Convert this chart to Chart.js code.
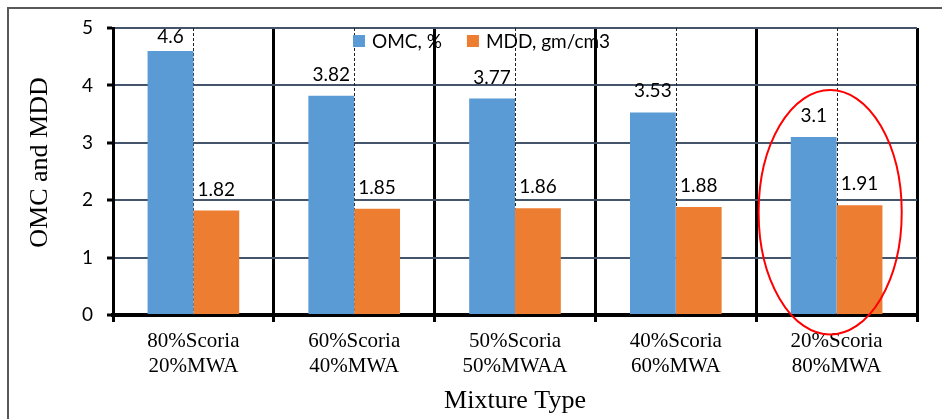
<!DOCTYPE html>
<html>
<head>
<meta charset="utf-8">
<script src="https://cdn.jsdelivr.net/npm/chart.js@4/dist/chart.umd.min.js"></script>
<style>
  html, body { margin: 0; padding: 0; background: #fff; }
  #wrap { position: relative; width: 942px; height: 419px; overflow: hidden; }
  #frame { position: absolute; left: 7px; top: 7px; width: 960px; height: 440px;
           border-left: 2px solid #595959; border-top: 2px solid #595959; box-sizing: border-box; }
  canvas { position: absolute; left: 0; top: 0; }
</style>
</head>
<body>
<div id="wrap">
  <div id="frame"></div>
  <canvas id="c" width="942" height="419"></canvas>
</div>
<script>
// ---- data ----
const categories = [
  ["80%Scoria", "20%MWA"],
  ["60%Scoria", "40%MWA"],
  ["50%Scoria", "50%MWAA"],
  ["40%Scoria", "60%MWA"],
  ["20%Scoria", "80%MWA"]
];
const omcValues = [4.6, 3.82, 3.77, 3.53, 3.1];
const mddValues = [1.82, 1.85, 1.86, 1.88, 1.91];
const seriesNames = ["OMC, %", "MDD, gm/cm3"];
const yTicks = [0, 1, 2, 3, 4, 5];
const xTitle = "Mixture Type";
const yTitle = "OMC and MDD";
// highlighted group (red ellipse), in data units
const highlightIndex = 4;
const highlightCenterOffset = -0.04;
const highlightCenterValue = 1.79;
const highlightHalfWidth = 0.445;   // in categories
const highlightHalfHeight = 2.13;   // in value units

const BLUE = '#5b9bd5', ORANGE = '#ed7d31';
const labelFont = '19px Lato, "Open Sans", sans-serif';
const serifFamily = '"Liberation Serif", "Times New Roman", serif';

const centerLines = {
  id: 'centerLines',
  beforeDatasetsDraw(chart) {
    const {ctx, chartArea, scales} = chart;
    ctx.save();
    ctx.strokeStyle = '#222';
    ctx.lineWidth = 1;
    ctx.setLineDash([3, 2]);
    categories.forEach((c, i) => {
      const x = Math.round(scales.x.getPixelForValue(i)) + 0.5;
      ctx.beginPath();
      ctx.moveTo(x, chartArea.top);
      ctx.lineTo(x, chartArea.bottom);
      ctx.stroke();
    });
    ctx.restore();
  }
};

const valueLabels = {
  id: 'valueLabels',
  afterDatasetsDraw(chart) {
    const {ctx, chartArea} = chart;
    ctx.save();
    ctx.font = labelFont;
    ctx.fillStyle = '#000';
    ctx.textAlign = 'center';
    ctx.textBaseline = 'alphabetic';
    chart.data.datasets.forEach((ds, di) => {
      const meta = chart.getDatasetMeta(di);
      meta.data.forEach((bar, i) => {
        let y = bar.y - 15;
        y = Math.max(y, chartArea.top + 15);
        ctx.fillText(String(ds.data[i]), bar.x, y);
      });
    });
    ctx.restore();
  }
};

const customLegend = {
  id: 'customLegend',
  afterDraw(chart) {
    const {ctx, chartArea} = chart;
    ctx.save();
    ctx.font = labelFont;
    ctx.textBaseline = 'middle';
    ctx.textAlign = 'left';
    let x = chartArea.left + 0.2985 * (chartArea.right - chartArea.left);
    const yc = chartArea.top + 13;
    chart.data.datasets.forEach((ds) => {
      ctx.fillStyle = ds.backgroundColor;
      ctx.fillRect(x, yc - 6, 12, 12);
      ctx.fillStyle = '#000';
      ctx.fillText(ds.label, x + 19, yc + 1);
      x += 19 + ctx.measureText(ds.label).width + 25;
    });
    ctx.restore();
  }
};

const yAxisTitle = {
  id: 'yAxisTitle',
  afterDraw(chart) {
    const {ctx, chartArea} = chart;
    ctx.save();
    ctx.font = '26px ' + serifFamily;
    ctx.fillStyle = '#000';
    ctx.textAlign = 'center';
    ctx.textBaseline = 'middle';
    ctx.translate(chartArea.left - 73, (chartArea.top + chartArea.bottom) / 2 - 9);
    ctx.rotate(-Math.PI / 2);
    ctx.fillText(yTitle, 0, 0);
    ctx.restore();
  }
};

const highlight = {
  id: 'highlight',
  afterDraw(chart) {
    const {ctx, scales} = chart;
    const cx = scales.x.getPixelForValue(highlightIndex + highlightCenterOffset);
    const cy = scales.y.getPixelForValue(highlightCenterValue);
    const catW = scales.x.getPixelForValue(1) - scales.x.getPixelForValue(0);
    const rx = highlightHalfWidth * catW;
    const ry = Math.abs(scales.y.getPixelForValue(highlightHalfHeight) - scales.y.getPixelForValue(0));
    ctx.save();
    ctx.strokeStyle = '#ff0000';
    ctx.lineWidth = 2;
    ctx.beginPath();
    ctx.ellipse(cx, cy, rx, ry, 0, 0, Math.PI * 2);
    ctx.stroke();
    ctx.restore();
  }
};

new Chart(document.getElementById('c'), {
  type: 'bar',
  data: {
    labels: categories,
    datasets: [
      { label: seriesNames[0], data: omcValues, backgroundColor: BLUE },
      { label: seriesNames[1], data: mddValues, backgroundColor: ORANGE }
    ]
  },
  options: {
    responsive: false,
    animation: false,
    devicePixelRatio: 1,
    layout: { padding: { left: 10, top: 28, right: 25, bottom: 0 } },
    datasets: { bar: { categoryPercentage: 0.57, barPercentage: 1.0 } },
    plugins: { legend: { display: false }, tooltip: { enabled: false } },
    scales: {
      x: {
        grid: { offset: true, color: '#000', lineWidth: 3, tickLength: 7, tickColor: '#000', tickWidth: 3 },
        border: { color: '#000', width: 4 },
        ticks: { color: '#000', padding: 7, maxRotation: 0,
                 font: { family: serifFamily, size: 21, lineHeight: 1.2 } },
        title: { display: true, text: xTitle, color: '#000',
                 font: { family: serifFamily, size: 26, lineHeight: 1.2 },
                 padding: { top: 0, bottom: 2 } },
        afterFit(scale) { scale.height = 104; }
      },
      y: {
        min: 0, max: 5,
        afterBuildTicks(scale) { scale.ticks = yTicks.map(v => ({ value: v })); },
        grid: { color: '#44546a', lineWidth: 2, tickLength: 6, tickColor: '#000', tickWidth: 3 },
        border: { color: '#000', width: 3 },
        ticks: { color: '#000', padding: 14, font: { family: 'Lato, "Open Sans", sans-serif', size: 19 } },
        afterFit(scale) { scale.width = 103; }
      }
    }
  },
  plugins: [centerLines, valueLabels, customLegend, yAxisTitle, highlight]
});
</script>
</body>
</html>
